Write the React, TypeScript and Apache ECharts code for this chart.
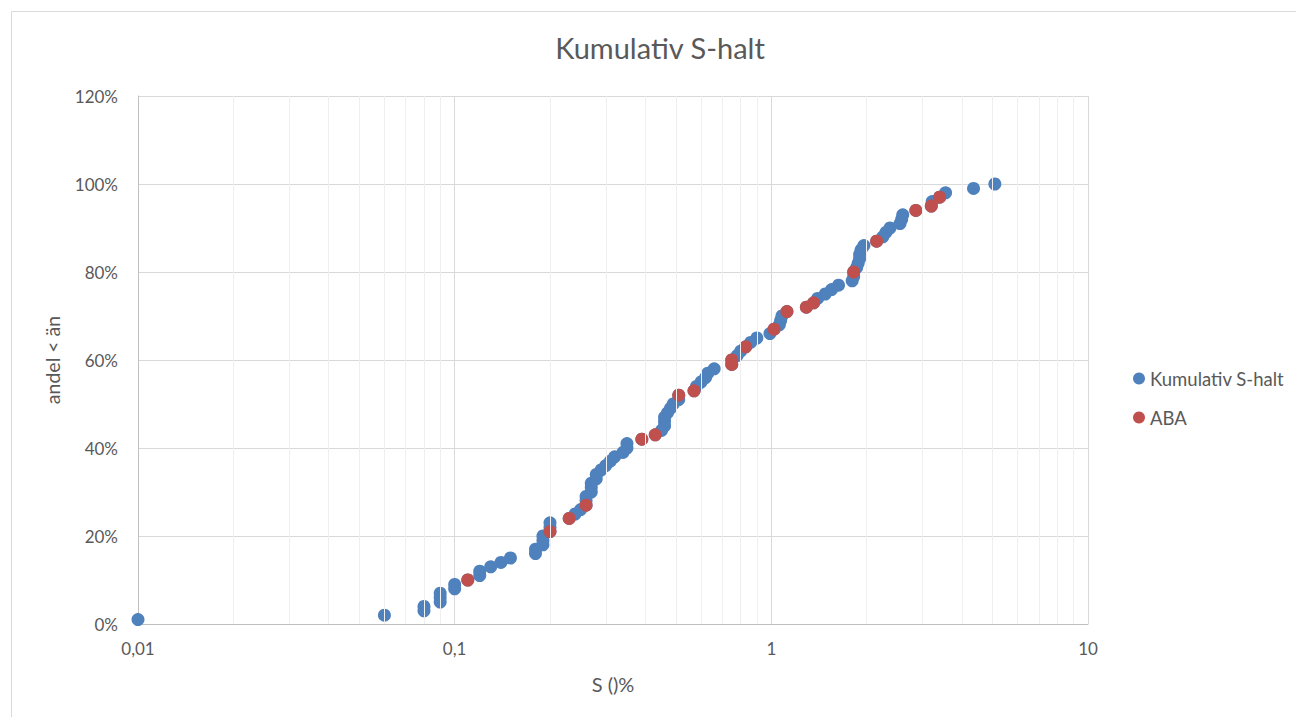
import React, { useEffect, useRef } from "react";
import * as echarts from "echarts";

// Kumulativ S-halt: S content (%) and cumulative share (%)
const kumulativX = [
  0.01, 0.06, 0.08, 0.08, 0.09, 0.09, 0.09, 0.1, 0.1, 0.11,
  0.12, 0.12, 0.13, 0.14, 0.15, 0.18, 0.18, 0.19, 0.19, 0.19,
  0.2, 0.2, 0.2, 0.23, 0.24, 0.25, 0.26, 0.26, 0.26, 0.27,
  0.27, 0.27, 0.28, 0.28, 0.29, 0.3, 0.31, 0.32, 0.34, 0.35,
  0.35, 0.39, 0.43, 0.45, 0.46, 0.46, 0.46, 0.47, 0.48, 0.49,
  0.51, 0.51, 0.57, 0.58, 0.6, 0.62, 0.63, 0.66, 0.75, 0.75,
  0.78, 0.8, 0.83, 0.86, 0.9, 0.99, 1.02, 1.06, 1.07, 1.08,
  1.12, 1.29, 1.36, 1.4, 1.48, 1.55, 1.63, 1.8, 1.82, 1.82,
  1.86, 1.88, 1.9, 1.9, 1.92, 1.96, 2.15, 2.25, 2.3, 2.37,
  2.55, 2.58, 2.6, 2.86, 3.2, 3.22, 3.4, 3.55, 4.35, 5.08,
];
const kumulativPct = [
  1, 2, 3, 4, 5, 6, 7, 8, 9, 10,
  11, 12, 13, 14, 15, 16, 17, 18, 19, 20,
  21, 22, 23, 24, 25, 26, 27, 28, 29, 30,
  31, 32, 33, 34, 35, 36, 37, 38, 39, 40,
  41, 42, 43, 44, 45, 46, 47, 48, 49, 50,
  51, 52, 53, 54, 55, 56, 57, 58, 59, 60,
  61, 62, 63, 64, 65, 66, 67, 68, 69, 70,
  71, 72, 73, 74, 75, 76, 77, 78, 79, 80,
  81, 82, 83, 84, 85, 86, 87, 88, 89, 90,
  91, 92, 93, 94, 95, 96, 97, 98, 99, 100,
];

// ABA subset
const abaX = [0.11, 0.2, 0.23, 0.26, 0.39, 0.43, 0.51, 0.57, 0.75, 0.75, 0.83, 1.02, 1.12, 1.29, 1.36, 1.82, 2.15, 2.86, 3.2, 3.4];
const abaPct = [10, 21, 24, 27, 42, 43, 52, 53, 59, 60, 63, 67, 71, 72, 73, 80, 87, 94, 95, 97];

const xTickValues = [0.01, 0.1, 1, 10];
const xTickLabels = ["0,01", "0,1", "1", "10"];
const minorGridValues = [
  0.02, 0.03, 0.04, 0.05, 0.06, 0.07, 0.08, 0.09,
  0.2, 0.3, 0.4, 0.5, 0.6, 0.7, 0.8, 0.9,
  2, 3, 4, 5, 6, 7, 8, 9,
];

const seriesNames = ["Kumulativ S-halt", "ABA"];
const FONT = "Lato, 'Open Sans', sans-serif";
const TEXT = "#595959";

export default function App() {
  const ref = useRef<HTMLDivElement>(null);

  useEffect(() => {
    if (!ref.current) return;
    const chart = echarts.init(ref.current, undefined, { renderer: "svg" });
    const kumulativData = kumulativX.map((x, i) => [x, kumulativPct[i]]);
    const abaData = abaX.map((x, i) => [x, abaPct[i]]);

    chart.setOption({
      animation: false,
      backgroundColor: "#ffffff",
      textStyle: { fontFamily: FONT },
      title: {
        text: "Kumulativ S-halt",
        left: 655,
        textAlign: "center",
        top: 28,
        textStyle: { fontFamily: FONT, fontSize: 29, fontWeight: "normal", color: TEXT },
      },
      graphic: [
        {
          type: "rect",
          shape: { x: 11.5, y: 11.5, width: 1300, height: 720 },
          style: { fill: "none", stroke: "#d9d9d9", lineWidth: 1 },
          silent: true,
          z: -1,
        },
      ],
      legend: {
        data: seriesNames,
        orient: "vertical",
        left: 1128,
        top: 364,
        itemWidth: 12,
        itemHeight: 12,
        itemGap: 20,
        icon: "circle",
        textStyle: { fontFamily: FONT, fontSize: 18.5, color: TEXT },
      },
      grid: { left: 138, right: 208, top: 96, bottom: 93, containLabel: false },
      xAxis: {
        type: "log",
        logBase: 10,
        min: 0.01,
        max: 10,
        name: "S ()%",
        nameLocation: "middle",
        nameGap: 50,
        nameTextStyle: { fontFamily: FONT, fontSize: 20, color: TEXT },
        axisLine: { show: true, lineStyle: { color: "#bfbfbf", width: 1 } },
        axisTick: { show: false },
        axisLabel: {
          margin: 16,
          fontFamily: FONT,
          fontSize: 17,
          color: TEXT,
          formatter: (v: number) => {
            const i = xTickValues.findIndex((t) => Math.abs(Math.log10(t) - Math.log10(v)) < 1e-6);
            return i >= 0 ? xTickLabels[i] : "";
          },
        },
        splitLine: { show: true, lineStyle: { color: "#d9d9d9", width: 1 } },
      },
      yAxis: {
        type: "value",
        min: 0,
        max: 120,
        interval: 20,
        name: "andel < än",
        nameLocation: "middle",
        nameRotate: 90,
        nameGap: 76,
        nameTextStyle: { fontFamily: FONT, fontSize: 19.5, color: TEXT },
        axisLine: { show: true, lineStyle: { color: "#bfbfbf", width: 1 } },
        axisTick: { show: false },
        axisLabel: {
          margin: 20,
          fontFamily: FONT,
          fontSize: 17,
          color: TEXT,
          formatter: "{value}%",
        },
        splitLine: { show: true, lineStyle: { color: "#d9d9d9", width: 1 } },
      },
      series: [
        {
          name: "minorGrid",
          type: "scatter",
          data: [],
          z: 0,
          silent: true,
          markLine: {
            silent: true,
            symbol: ["none", "none"],
            label: { show: false },
            lineStyle: { color: "#efefef", width: 1, type: "solid" },
            emphasis: { disabled: true },
            data: minorGridValues.map((v) => ({ xAxis: v })),
          },
        },
        {
          name: seriesNames[0],
          type: "scatter",
          data: kumulativData,
          symbol: "circle",
          symbolSize: 13,
          itemStyle: { color: "#4f81bd", opacity: 1 },
          z: 3,
        },
        {
          name: seriesNames[1],
          type: "scatter",
          data: abaData,
          symbol: "circle",
          symbolSize: 13,
          itemStyle: { color: "#c0504d", opacity: 1 },
          z: 4,
        },
      ],
    });

    return () => chart.dispose();
  }, []);

  return (
    <div
      ref={ref}
      style={{ position: "fixed", left: 0, top: 0, width: 1296, height: 717, background: "#fff" }}
    />
  );
}
